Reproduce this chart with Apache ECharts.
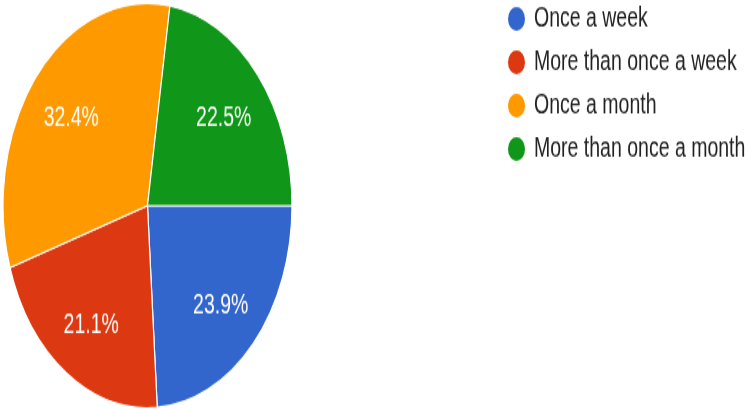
<!DOCTYPE html>
<html>
<head>
<meta charset="utf-8">
<script src="https://cdn.jsdelivr.net/npm/echarts@6/dist/echarts.min.js"></script>
<style>
  html, body { margin: 0; padding: 0; background: #fff; overflow: hidden; }
  #wrap { width: 745px; height: 410px; overflow: hidden; }
  /* the chart is drawn at a flatter height and stretched vertically */
  #chart { width: 745px; height: 293px; transform: scaleY(1.3993); transform-origin: 0 0; }
</style>
</head>
<body>
<div id="wrap"><div id="chart"></div></div>
<script>
const categories = ['Once a week', 'More than once a week', 'Once a month', 'More than once a month'];
const shares = [23.9, 21.1, 32.4, 22.5];
const colors = ['#3366cc', '#dc3912', '#ff9900', '#109618'];

const pieData = categories.map((name, i) => ({
  name: name,
  value: shares[i],
  itemStyle: { color: colors[i] }
}));

const center = [147.5, 147];
const chart = echarts.init(document.getElementById('chart'), null, { renderer: 'canvas' });
chart.setOption({
  animation: false,
  color: colors,
  legend: {
    orient: 'vertical',
    left: 501,
    top: -2,
    icon: 'circle',
    itemWidth: 19,
    itemHeight: 19,
    itemGap: 10,
    selectedMode: false,
    textStyle: {
      fontFamily: 'Liberation Sans, Arial, sans-serif',
      fontSize: 19.5,
      color: '#222',
      padding: [0, 0, 0, 3]
    },
    data: categories
  },
  series: [
    {
      type: 'pie',
      center: center,
      radius: [0, 144.5],
      startAngle: 0,
      clockwise: true,
      silent: true,
      label: { show: false },
      labelLine: { show: false },
      itemStyle: { borderColor: '#fff', borderWidth: 1.2 },
      data: pieData
    },
    {
      // transparent ring that places the percentage labels further out
      type: 'pie',
      center: center,
      radius: [50, 144.5],
      startAngle: 0,
      clockwise: true,
      silent: true,
      legendHoverLink: false,
      itemStyle: { color: 'rgba(0,0,0,0)', borderWidth: 0 },
      label: {
        show: true,
        position: 'inside',
        offset: [0, 3],
        formatter: p => p.value.toFixed(1) + '%',
        color: '#fff',
        fontFamily: 'Liberation Sans, Arial, sans-serif',
        fontSize: 19.5
      },
      labelLine: { show: false },
      data: categories.map((name, i) => ({ name: name + ' ', value: shares[i] }))
    }
  ]
});
</script>
</body>
</html>
